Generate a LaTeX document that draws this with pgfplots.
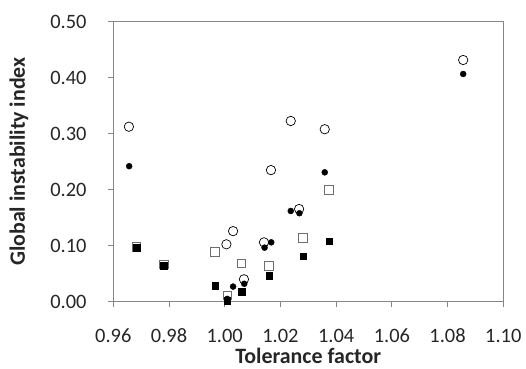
\documentclass[border=0pt]{standalone}
\usepackage{pgfplots}
\pgfplotsset{compat=1.18}
\usepackage{fontspec}
\setmainfont{Carlito}
\definecolor{axgray}{RGB}{134,134,134}
\definecolor{sqgray}{RGB}{110,110,110}
\begin{document}
\begin{tikzpicture}
\useasboundingbox (-113.3bp,-67.3bp) rectangle (412.7bp,301.7bp);
\begin{axis}[
  at={(0,0)}, anchor=south west,
  scale only axis, width=390bp, height=280bp,
  xmin=0.96, xmax=1.10, ymin=0, ymax=0.5,
  xtick={0.96,0.98,1.00,1.02,1.04,1.06,1.08,1.10},
  ytick={0,0.1,0.2,0.3,0.4,0.5},
  xtick pos=bottom, ytick pos=left,
  tick align=outside, major tick length=5bp,
  every tick/.style={axgray, line width=0.8pt},
  axis line style={axgray, line width=0.8pt},
  /pgf/number format/.cd, fixed, fixed zerofill, precision=2, assume math mode=true,
  /pgfplots/.cd,
  ticklabel style={font=\fontsize{20.5}{24}\selectfont, text=black!85, inner sep=0pt},
  xticklabel style={anchor=center, yshift=-29bp},
  yticklabel style={anchor=east, xshift=-21.6bp},
  xlabel={\textbf{Tolerance factor}},
  ylabel={\textbf{Global instability index}},
  label style={font=\fontsize{22}{26}\selectfont, text=black!85, inner sep=0pt},
  xlabel style={at={(axis description cs:0.5,-0.193)}, anchor=center},
  ylabel style={at={(axis description cs:-0.2418,0.5)}, anchor=center},
  clip=false,
]
\addplot[only marks, mark=o, mark size=4.7bp, mark options={draw=black, fill=white, line width=0.7pt}] coordinates {
(0.9656,0.3125) (1.0006,0.1025) (1.0030,0.126) (1.0069,0.040) (1.0141,0.106)
(1.0166,0.235) (1.0237,0.3227) (1.0267,0.1655) (1.0359,0.308) (1.0856,0.4316)
};
\addplot[only marks, mark=square*, mark size=4.3bp, mark options={draw=sqgray, fill=white, line width=0.7pt}] coordinates {
(0.9683,0.098) (0.9781,0.067) (0.9964,0.0893) (1.0009,0.0115) (1.0060,0.0685)
(1.0158,0.0637) (1.0281,0.114) (1.0374,0.1995)
};
\addplot[only marks, mark=*, mark size=3bp, mark options={draw=black, fill=black}] coordinates {
(0.9657,0.242) (1.0009,0.005) (1.0030,0.027) (1.0070,0.032) (1.0143,0.0965)
(1.0167,0.106) (1.0237,0.162) (1.0268,0.158) (1.0359,0.231) (1.0856,0.4066)
};
\addplot[only marks, mark=square*, mark size=3.3bp, mark options={draw=black, fill=black}] coordinates {
(0.9683,0.096) (0.9781,0.064) (0.9966,0.0286) (1.0009,0.002) (1.0060,0.018)
(1.0160,0.046) (1.0282,0.0816) (1.0375,0.108)
};
\end{axis}
\end{tikzpicture}
\end{document}
